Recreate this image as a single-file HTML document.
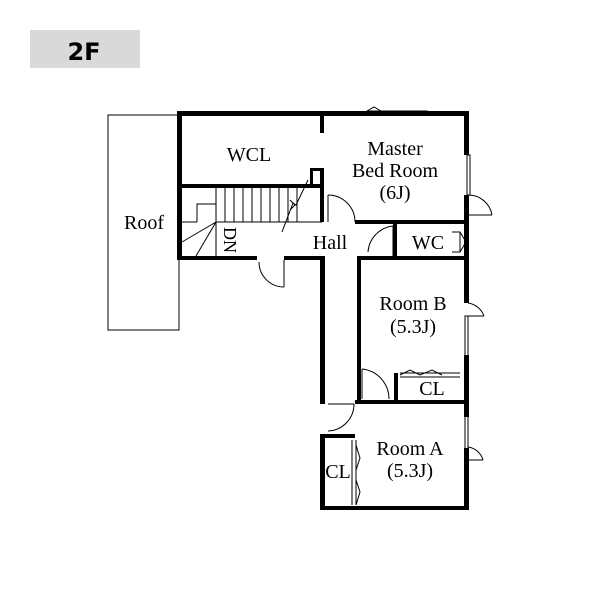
<!DOCTYPE html>
<html><head><style>body{margin:0;background:#fff}svg{display:block}</style></head>
<body>
<svg width="600" height="600" viewBox="0 0 600 600" xmlns="http://www.w3.org/2000/svg">
<rect x="30" y="30" width="110" height="38" fill="#d9d9d9"/>
<text x="84" y="60" font-family="DejaVu Sans, sans-serif" font-weight="bold" font-size="24" text-anchor="middle">2F</text>
<rect x="108" y="115" width="71" height="215" fill="none" stroke="#000" stroke-width="1"/>
<g stroke="#000" stroke-width="1" fill="none">
<line x1="216" y1="188" x2="216" y2="222"/><line x1="225" y1="188" x2="225" y2="222"/>
<line x1="234" y1="188" x2="234" y2="222"/><line x1="243" y1="188" x2="243" y2="222"/>
<line x1="252" y1="188" x2="252" y2="222"/><line x1="261" y1="188" x2="261" y2="222"/>
<line x1="270" y1="188" x2="270" y2="222"/><line x1="279" y1="188" x2="279" y2="222"/>
<line x1="288" y1="188" x2="288" y2="222"/><line x1="297" y1="188" x2="297" y2="222"/>
<line x1="216" y1="222" x2="322" y2="222"/>
<polyline points="216,204 197,204 197,222"/>
<line x1="182" y1="242" x2="216" y2="222"/><line x1="196" y1="256" x2="216" y2="222"/>
<line x1="182" y1="222" x2="197" y2="222"/>
<line x1="216" y1="222" x2="216" y2="256"/>
<polyline points="282,232 293,203 296,205 308,180"/>
<polyline points="290,200 295,205 290,210"/>
<path d="M328 195 A27 27 0 0 1 355 222" /><line x1="328" y1="195" x2="328" y2="222"/>
<path d="M368 252 A28 28 0 0 1 393 226"/><line x1="393" y1="226" x2="393" y2="256"/>
<path d="M259 262 A25 25 0 0 0 284 287"/><line x1="284" y1="260" x2="284" y2="287"/>
<path d="M468 195 A24 24 0 0 1 492 215"/><line x1="468" y1="215" x2="492" y2="215"/>
<path d="M468 303 A20 20 0 0 1 484 316"/><line x1="468" y1="316" x2="484" y2="316"/>
<path d="M468 447 A18 18 0 0 1 483 460"/><line x1="468" y1="460" x2="483" y2="460"/>
<path d="M362 369 A30 30 0 0 1 389 399"/><line x1="362" y1="369" x2="362" y2="399"/>
<path d="M328 431 A27 27 0 0 0 354 404"/><line x1="328" y1="404" x2="354" y2="404"/>
<rect x="467" y="155" width="3" height="40" fill="#fff"/>
<rect x="465" y="316" width="3" height="40"/>
<rect x="465" y="415" width="3" height="35"/>
<rect x="367" y="111" width="60" height="4" fill="#fff"/>
<path d="M367 111 L374 107 L381 111"/>
<path d="M452 232 L460 232 L460 252 L452 252 M460 232 L466 242 L460 252"/>
<path d="M400 375 L410 370 L420 375 L432 370 L442 375 M400 373 L460 373 M400 377 L460 377"/>
<path d="M352 440 L352 505 M356 440 L356 505 M356 445 L360 458 L356 470 M356 480 L360 492 L356 505"/>
</g>
<g fill="#000">
<rect x="177" y="111" width="292" height="5"/>
<rect x="177" y="111" width="5" height="149"/>
<rect x="464" y="111" width="5" height="44"/>
<rect x="464" y="195" width="5" height="64"/>
<rect x="464" y="256" width="5" height="47"/>
<rect x="464" y="355" width="5" height="62"/>
<rect x="464" y="448" width="5" height="62"/>
<rect x="182" y="184" width="140" height="4"/>
<rect x="320" y="113" width="4" height="20"/>
<rect x="320" y="168" width="4" height="54"/>
<rect x="310" y="168" width="12" height="3"/><rect x="310" y="168" width="3" height="18"/>
<rect x="355" y="220" width="112" height="4"/>
<rect x="393" y="222" width="4" height="35"/>
<rect x="177" y="256" width="80" height="4"/>
<rect x="284" y="256" width="40" height="4"/>
<rect x="320" y="256" width="5" height="148"/>
<rect x="320" y="434" width="5" height="76"/>
<rect x="320" y="434" width="35" height="4"/>
<rect x="320" y="506" width="149" height="4"/>
<rect x="357" y="256" width="112" height="4"/>
<rect x="357" y="256" width="4" height="148"/>
<rect x="355" y="400" width="114" height="4"/>
<rect x="394" y="373" width="4" height="30"/>
</g>
<g font-family="Liberation Serif, serif" font-size="20" text-anchor="middle">
<text x="144" y="229">Roof</text>
<text x="249" y="161">WCL</text>
<text x="395" y="155">Master</text>
<text x="395" y="177">Bed Room</text>
<text x="395" y="199">(6J)</text>
<text x="330" y="249">Hall</text>
<text x="428" y="249">WC</text>
<text x="413" y="310">Room B</text>
<text x="413" y="333">(5.3J)</text>
<text x="432" y="395">CL</text>
<text x="410" y="455">Room A</text>
<text x="410" y="477">(5.3J)</text>
<text x="338" y="478">CL</text>
<text x="0" y="0" transform="translate(224,240) rotate(90)" font-size="18">DN</text>
</g>
</svg>
</body></html>
